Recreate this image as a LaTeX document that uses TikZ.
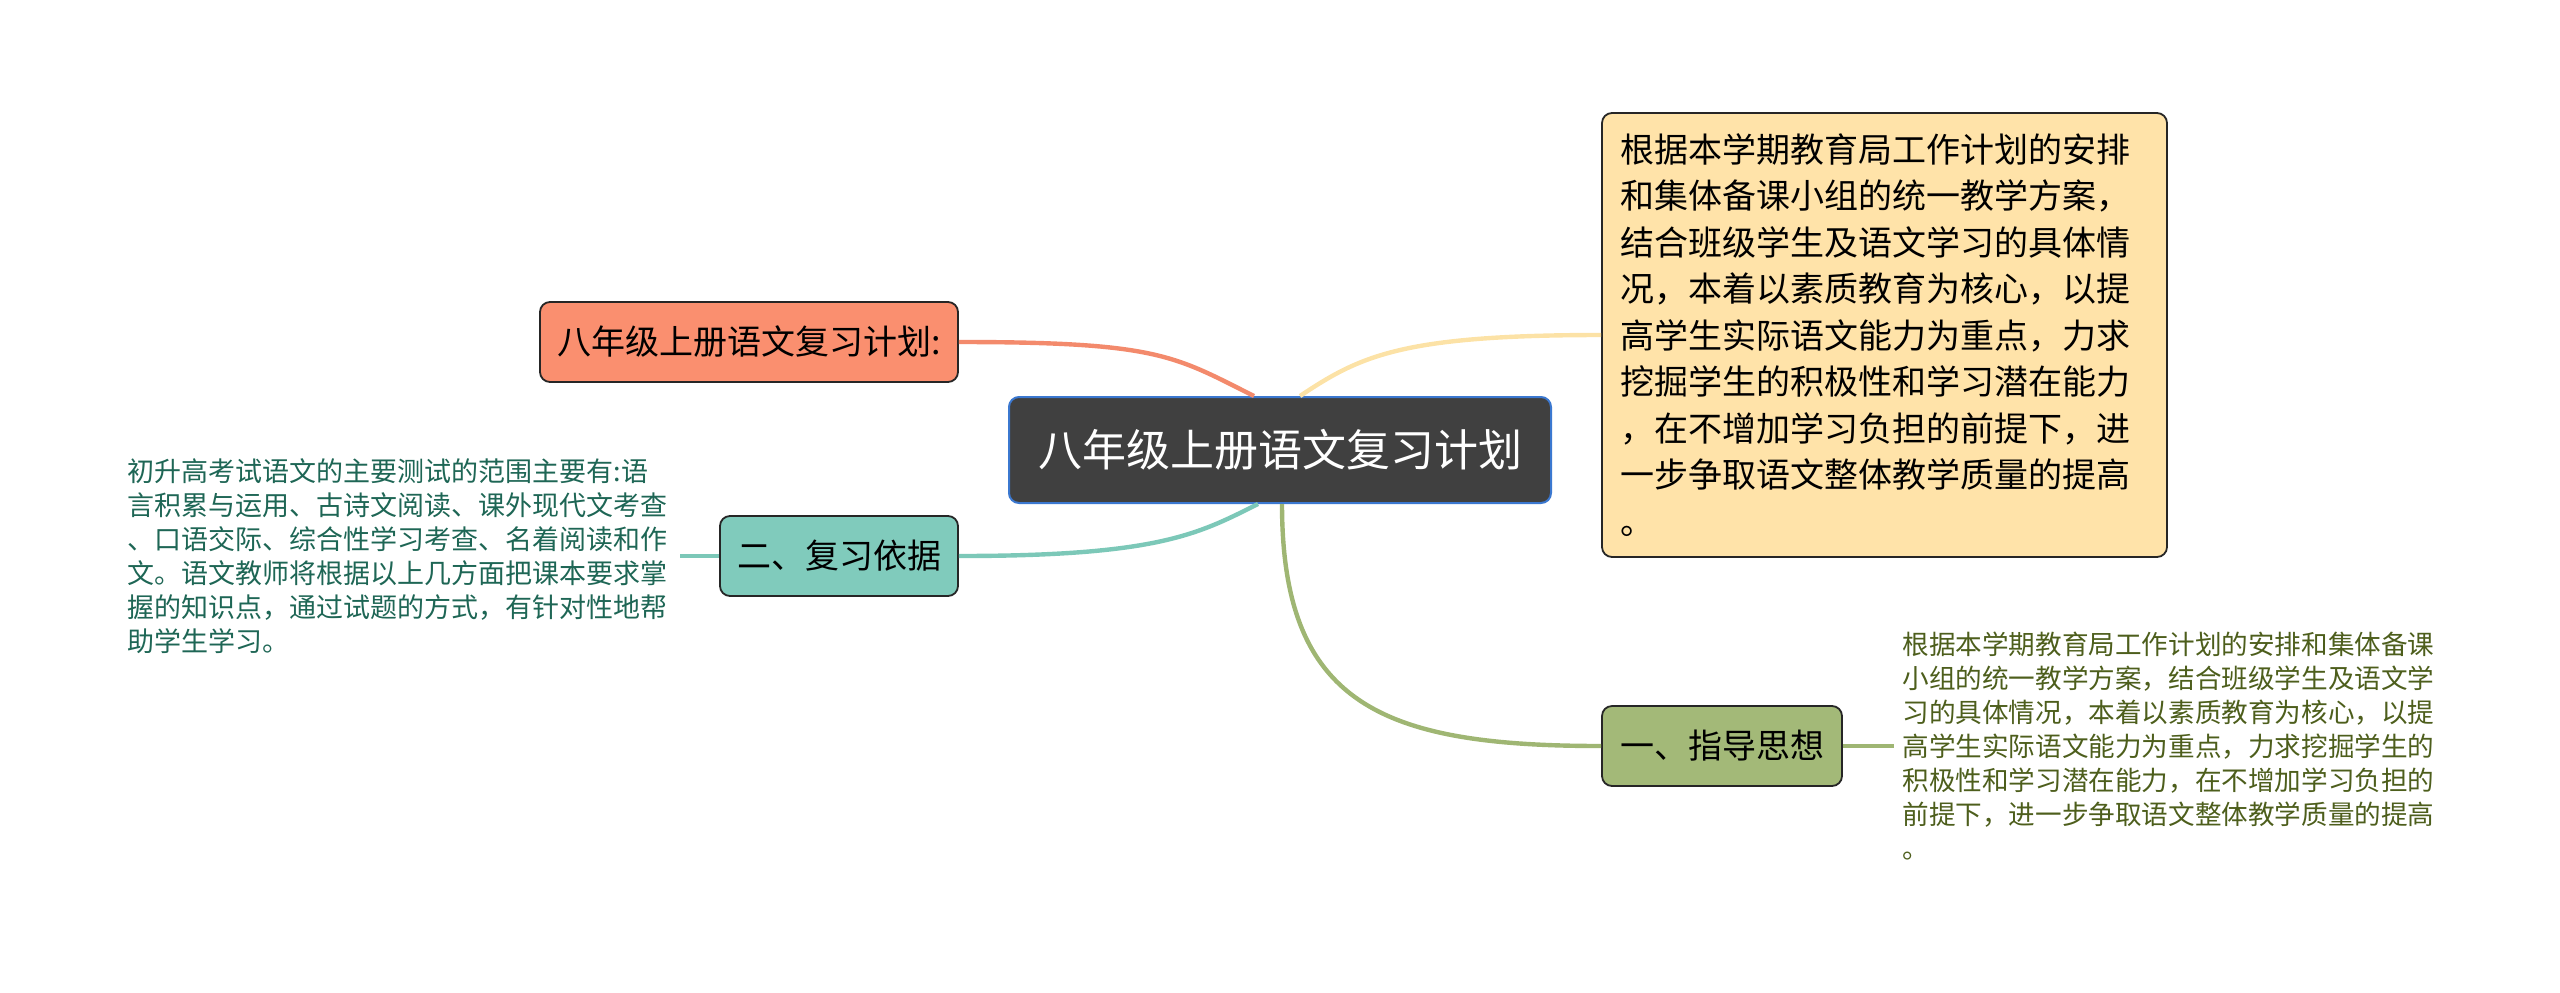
\documentclass[tikz,border=0pt]{standalone}
\usepackage{fontspec}
\setmainfont{Noto Sans CJK SC}
\usepackage{xcolor}
\usepackage{tikz}
\usetikzlibrary{positioning}
\definecolor{rootfill}{HTML}{404040}
\definecolor{rootline}{HTML}{3B78D0}
\definecolor{planfill}{HTML}{FA8F6F}
\definecolor{planline}{HTML}{F38A6C}
\definecolor{basisfill}{HTML}{80CBBC}
\definecolor{basisline}{HTML}{7CC8B8}
\definecolor{ideafill}{HTML}{FFE3A9}
\definecolor{idealine}{HTML}{FCE2A6}
\definecolor{guidefill}{HTML}{A3B978}
\definecolor{guideline}{HTML}{9FB673}
\definecolor{basistxt}{HTML}{1E6655}
\definecolor{guidetxt}{HTML}{4D5E1C}
\tikzstyle{root} = [rectangle, rounded corners=5pt, draw=rootline, line width=1pt, fill=rootfill, text=white, minimum width=271pt, minimum height=53pt, font=\fontsize{22pt}{26pt}\selectfont]
\tikzstyle{topic} = [rectangle, rounded corners=5pt, draw=black!85, line width=0.9pt, minimum height=40pt, inner xsep=8pt, font=\fontsize{17pt}{20pt}\selectfont]
\tikzstyle{note} = [inner xsep=4pt, inner ysep=0pt, align=left, text width=272pt, font=\fontsize{13.5pt}{17pt}\selectfont]
\tikzstyle{link} = [line width=2.2pt]
\tikzstyle{twig} = [line width=1.6pt]

\begin{document}
\begin{tikzpicture}[x=0.5pt, y=-0.5pt]
    \useasboundingbox (0,0) rectangle (2560,992);
    \node (title) [root] at (1280,450) {八年级上册语文复习计划};
    \node (plan) [topic, fill=planfill, minimum width=209pt] at (749,342) {八年级上册语文复习计划:};
    \node (basis) [topic, fill=basisfill, minimum width=119pt] at (839,556) {二、复习依据};
    \node (idea) [topic, fill=ideafill, minimum width=282.5pt, minimum height=222pt, text width=264pt, align=left, font=\fontsize{17pt}{23.25pt}\selectfont] at (1884.5,335) {根据本学期教育局工作计划的安排\\和集体备课小组的统一教学方案，\\结合班级学生及语文学习的具体情\\况，本着以素质教育为核心，以提\\高学生实际语文能力为重点，力求\\挖掘学生的积极性和学习潜在能力\\，在不增加学习负担的前提下，进\\一步争取语文整体教学质量的提高\\。};
    \node (guide) [topic, fill=guidefill, minimum width=120pt] at (1722,746) {一、指导思想};
    \node (basisnote) [note, text=basistxt, anchor=east] at (680,556) {初升高考试语文的主要测试的范围主要有:语\\言积累与运用、古诗文阅读、课外现代文考查\\、口语交际、综合性学习考查、名着阅读和作\\文。语文教师将根据以上几方面把课本要求掌\\握的知识点，通过试题的方式，有针对性地帮\\助学生学习。};
    \node (guidenote) [note, text=guidetxt, anchor=west, font=\fontsize{13.3pt}{17pt}\selectfont] at (1894,746) {根据本学期教育局工作计划的安排和集体备课\\小组的统一教学方案，结合班级学生及语文学\\习的具体情况，本着以素质教育为核心，以提\\高学生实际语文能力为重点，力求挖掘学生的\\积极性和学习潜在能力，在不增加学习负担的\\前提下，进一步争取语文整体教学质量的提高\\。};

    \draw [link, planline] (plan.east) .. controls +(100pt,0pt) and +(-40pt,20pt) .. ([xshift=-13pt]title.north);
    \draw [link, idealine] ([xshift=10pt]title.north) .. controls +(30pt,20pt) and +(-100pt,0pt) .. (idea.west);
    \draw [link, basisline] (basis.east) .. controls +(100pt,0pt) and +(-30pt,-15pt) .. ([xshift=-11pt]title.south);
    \draw [link, guideline] ([xshift=1pt]title.south) .. controls +(0pt,-100pt) and +(-110pt,0pt) .. (guide.west);
    \draw [twig, basisline] (basisnote.east) -- (basis.west);
    \draw [twig, guideline] (guide.east) -- (guidenote.west);
\end{tikzpicture}
\end{document}
